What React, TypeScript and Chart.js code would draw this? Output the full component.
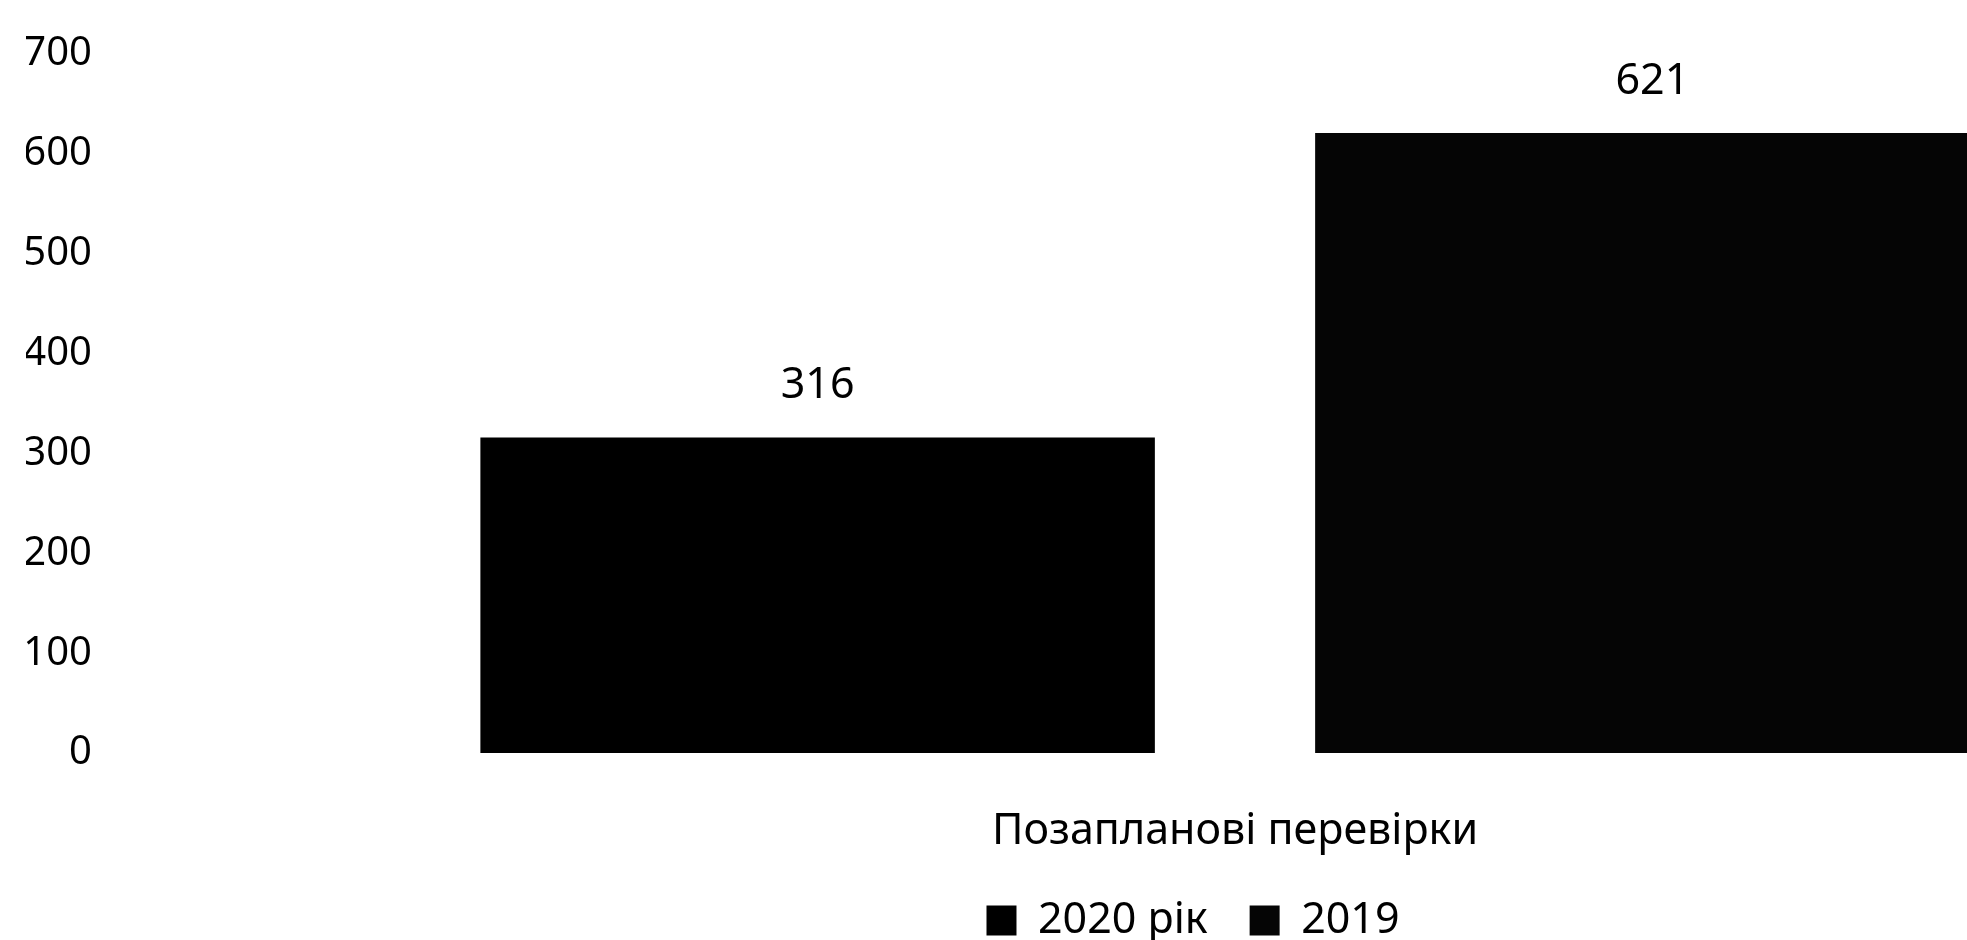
import React, { useEffect, useRef } from 'react';
import Chart from 'chart.js/auto';

const categories = ['Позапланові перевірки'];
const seriesNames = ['2020 рік', '2019'];
const values2020 = [316];
const values2019 = [621];
const yTicks = [0, 100, 200, 300, 400, 500, 600, 700];

const FONT = '"Noto Sans", "Open Sans", sans-serif';
const SIZE = 43;

// writes the value above every bar
const valueLabels = {
    id: 'valueLabels',
    afterDatasetsDraw(chart: any) {
        const ctx = chart.ctx;
        ctx.save();
        ctx.font = `${SIZE}px ${FONT}`;
        ctx.fillStyle = '#000';
        ctx.textAlign = 'center';
        ctx.textBaseline = 'alphabetic';
        chart.data.datasets.forEach((ds: any, i: number) => {
            chart.getDatasetMeta(i).data.forEach((bar: any, j: number) => {
                ctx.fillText(String(ds.data[j]), bar.x, bar.y - 39);
            });
        });
        ctx.restore();
    }
};

export default function App() {
    const chartRef = useRef<HTMLCanvasElement | null>(null);
    const chartInstance = useRef<Chart | null>(null);

    useEffect(() => {
        const ctx = chartRef.current?.getContext('2d');
        if (ctx) {
            chartInstance.current = new Chart(ctx, {
                type: 'bar',
                data: {
                    labels: categories,
                    datasets: [
                        {
                            label: seriesNames[0],
                            data: values2020,
                            backgroundColor: '#000',
                            borderWidth: 0,
                        },
                        {
                            label: seriesNames[1],
                            data: values2019,
                            backgroundColor: '#050505',
                            borderWidth: 0,
                        }
                    ]
                },
                options: {
                    animation: false,
                    responsive: true,
                    maintainAspectRatio: false,
                    categoryPercentage: 0.742,
                    barPercentage: 0.808,
                    layout: { padding: { top: 54, left: 26, right: 34, bottom: 0 } },
                    plugins: {
                        tooltip: { enabled: false },
                        legend: {
                            position: 'bottom',
                            labels: {
                                boxWidth: 30,
                                boxHeight: 30,
                                padding: 42,
                                color: '#000',
                                font: { family: FONT, size: SIZE },
                            }
                        }
                    },
                    scales: {
                        x: {
                            grid: { display: false },
                            border: { display: false },
                            ticks: {
                                color: '#000',
                                padding: 45,
                                font: { family: FONT, size: SIZE },
                            },
                            afterFit: (scale: any) => { scale.height = 104; }
                        },
                        y: {
                            min: yTicks[0],
                            max: yTicks[yTicks.length - 1],
                            grid: { display: false },
                            border: { display: false },
                            ticks: {
                                stepSize: 100,
                                color: '#000',
                                padding: 10,
                                font: { family: FONT, size: 40 },
                            },
                            afterFit: (scale: any) => { scale.width = 84; }
                        }
                    }
                },
                plugins: [valueLabels]
            });
        }
        return () => {
            if (chartInstance.current) {
                chartInstance.current.destroy();
            }
        };
    }, []);

    return (
        <div style={{ position: 'fixed', left: 0, top: 0, width: 1967, height: 940, overflow: 'hidden', background: '#fff' }}>
            <div style={{ position: 'relative', width: 2394, height: 952 }}>
                <canvas ref={chartRef} />
            </div>
        </div>
    );
}
